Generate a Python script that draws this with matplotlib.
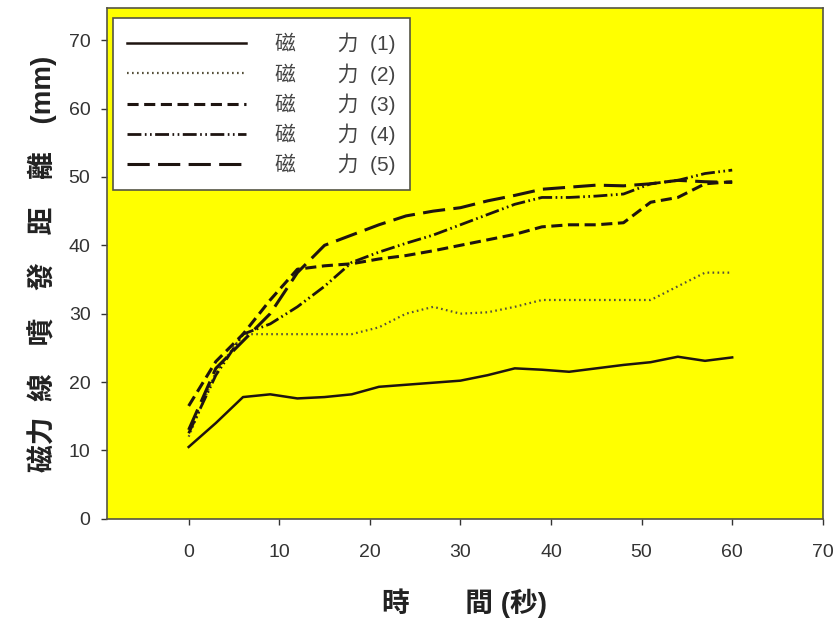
import matplotlib
matplotlib.use("Agg")
import matplotlib.pyplot as plt

plt.rcParams['font.family'] = ['Liberation Sans', 'Noto Sans CJK TC', 'DejaVu Sans']
plt.rcParams['lines.scale_dashes'] = False

# time (s)
t = [0, 3, 6, 9, 12, 15, 18, 21, 24, 27, 30, 33, 36, 39, 42, 45, 48, 51, 54, 57, 60]

s1 = [10.5, 14.0, 17.8, 18.2, 17.6, 17.8, 18.2, 19.3, 19.6, 19.9, 20.2, 21.0, 22.0, 21.8, 21.5, 22.0, 22.5, 22.9, 23.7, 23.1, 23.6]
s2 = [12.0, 21.5, 27.0, 27.0, 27.0, 27.0, 27.0, 28.0, 30.0, 31.0, 30.0, 30.2, 31.0, 32.0, 32.0, 32.0, 32.0, 32.0, 34.0, 36.0, 36.0]
s3 = [16.5, 23.0, 27.0, 32.0, 36.5, 37.0, 37.3, 38.0, 38.5, 39.2, 40.0, 40.8, 41.6, 42.7, 43.0, 43.0, 43.3, 46.3, 47.0, 49.0, 49.3]
s4 = [12.5, 21.0, 27.0, 28.5, 31.0, 34.0, 37.5, 39.0, 40.3, 41.5, 43.0, 44.5, 46.0, 47.0, 47.0, 47.2, 47.5, 49.0, 49.5, 50.5, 51.0]
s5 = [13.0, 22.0, 26.0, 30.0, 36.0, 40.0, 41.5, 43.0, 44.3, 45.0, 45.5, 46.5, 47.3, 48.2, 48.5, 48.8, 48.7, 49.0, 49.5, 49.3, 49.2]

labels = ["磁　　力  (1)", "磁　　力  (2)", "磁　　力  (3)", "磁　　力  (4)", "磁　　力  (5)"]
xticks = [0, 10, 20, 30, 40, 50, 60, 70]
yticks = [0, 10, 20, 30, 40, 50, 60, 70]

fig = plt.figure(figsize=(8.37, 6.22), dpi=100)
ax = fig.add_axes([0.128, 0.166, 0.855, 0.821])
ax.set_facecolor('#FFFF00')

lc = '#1e1410'
ax.plot(t, s1, color=lc, lw=1.8, linestyle='-', label=labels[0])
ax.plot(t, s2, color='#55503a', lw=1.6, linestyle=(0, (1.2, 2.4)), label=labels[1])
ax.plot(t, s3, color=lc, lw=2.2, linestyle=(0, (8, 4)), label=labels[2])
ax.plot(t, s4, color=lc, lw=2.0, linestyle=(0, (10, 2.5, 1.2, 2.5, 1.2, 2.5)), label=labels[3])
ax.plot(t, s5, color=lc, lw=2.2, linestyle=(0, (16, 6)), label=labels[4])

ax.set_xlim(-9, 70)
ax.set_ylim(0, 74.7)
ax.set_xticks(xticks)
ax.set_yticks(yticks)
ax.tick_params(axis='both', direction='out', length=4, width=1, colors='#333333',
               labelsize=14, pad=8)
ax.tick_params(axis='x', pad=14)
for sp in ax.spines.values():
    sp.set_color('#555544')
    sp.set_linewidth(1.2)

ax.set_xlabel("時　　間 (秒)", fontsize=20, fontweight='bold', color='#222222', labelpad=20)
ax.set_ylabel("磁力  線　噴　發　距　離　(mm)", fontsize=20, fontweight='bold', color='#222222', labelpad=8)

leg = ax.legend(loc='upper left', bbox_to_anchor=(0.008, 0.98), borderaxespad=0,
                fontsize=15, frameon=True, fancybox=False, handlelength=5.7,
                handletextpad=1.4, labelspacing=0.42, borderpad=0.7)
leg.get_frame().set_facecolor('white')
leg.get_frame().set_edgecolor('#555544')
leg.get_frame().set_linewidth(1.2)
leg.get_frame().set_alpha(1)
for txt in leg.get_texts():
    txt.set_color('#444444')

fig.savefig('out.png', dpi=100, facecolor='white')
